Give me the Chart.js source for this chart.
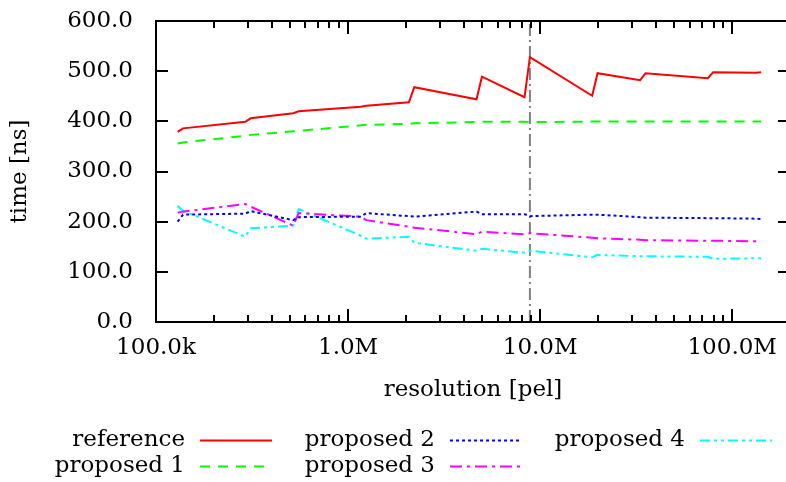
<!DOCTYPE html>
<html>
<head>
<meta charset="utf-8">
<script src="https://cdn.jsdelivr.net/npm/chart.js@4/dist/chart.umd.min.js"></script>
<style>
  html, body { margin: 0; padding: 0; background: #fff; overflow: hidden; }
  #wrap { width: 800px; height: 482px; }
</style>
</head>
<body>
<div id="wrap"><canvas id="c" width="800" height="482"></canvas></div>
<script>
// Image resolutions in pixels (16:9 and DCI 17:9 pairs)
const RESOLUTIONS = [129600, 138240, 291600, 311040, 518400, 552960, 1166400, 1244160,
  2073600, 2211840, 4665600, 4976640, 8294400, 8847360, 18662400, 19906560,
  33177600, 35389440, 74649600, 79626240, 132710400, 141557760];

// Time per pixel [ns]
const REFERENCE  = [379, 386, 399, 406, 416, 420, 429, 431, 438, 468, 444, 489, 448, 528, 451, 496, 482, 496, 486, 498, 497, 498];
const PROPOSED_1 = [356, 358, 371, 373, 380, 381, 392, 393, 395, 396, 398.5, 399, 399, 398.5, 399.5, 399.5, 399.5, 399.5, 399.5, 399.5, 399.5, 399.5];
const PROPOSED_2 = [200, 214, 216, 221, 203, 209, 210, 217, 211, 210, 220, 215, 215, 211, 214, 214, 209, 208, 207, 207, 206, 205];
const PROPOSED_3 = [218, 220, 235, 230, 192, 217, 210, 203, 190, 188, 175, 180, 175, 177, 168, 167, 164, 163, 162, 162, 161, 160];
const PROPOSED_4 = [231, 222, 170, 187, 192, 225, 172, 166, 170, 158, 142, 146, 138, 142, 129, 134, 131, 131, 130, 126, 127, 127];

// 4096x2160 marker
const MARKER_X = 8847360;
const MARKER_Y = [0, 600];

const X_TICKS = [1e5, 1e6, 1e7, 1e8];
const X_TICK_LABELS = ['100.0k', '1.0M', '10.0M', '100.0M'];
const Y_TICKS = [0, 100, 200, 300, 400, 500, 600];

const SERIES_NAMES = ['reference', 'proposed 1', 'proposed 2', 'proposed 3', 'proposed 4'];
const SERIES_VALUES = [REFERENCE, PROPOSED_1, PROPOSED_2, PROPOSED_3, PROPOSED_4];
const SERIES_COLORS = ['#ff0000', '#00ff00', '#0000ff', '#ff00ff', '#00ffff'];
const SERIES_DASHES = [[], [10, 8], [3, 3], [12, 5, 3, 5], [10, 4, 3, 4, 3, 4]];

const FONT = { family: 'DejaVu Serif', size: 23 };
Chart.defaults.font.family = FONT.family;
Chart.defaults.color = '#000';

const datasets = SERIES_NAMES.map((name, i) => ({
  label: name,
  data: RESOLUTIONS.map((x, k) => ({ x: x, y: SERIES_VALUES[i][k] })),
  borderColor: SERIES_COLORS[i],
  borderDash: SERIES_DASHES[i],
  borderWidth: 2,
  pointRadius: 0,
  tension: 0,
  fill: false
}));
datasets.push({
  label: '',
  isMarker: true,
  data: MARKER_Y.map(y => ({ x: MARKER_X, y: y })),
  borderColor: '#808080',
  borderDash: [12, 4, 2, 4],
  borderWidth: 2,
  pointRadius: 0,
  fill: false
});

// Frame, inward ticks (with mirrored copies) and the key below the plot
const framePlugin = {
  id: 'frame',
  afterDatasetsDraw(chart) {
    const { ctx, chartArea: a, scales } = chart;
    const xs = scales.x, ys = scales.y;
    ctx.save();
    ctx.strokeStyle = '#000';
    ctx.lineWidth = 2;
    ctx.setLineDash([]);
    ctx.strokeRect(a.left, a.top, a.right - a.left, a.bottom - a.top);
    ctx.beginPath();
    ys.ticks.forEach(t => {
      const y = Math.round(ys.getPixelForValue(t.value));
      ctx.moveTo(a.left, y); ctx.lineTo(a.left + 12, y);
      ctx.moveTo(a.right, y); ctx.lineTo(a.right - 12, y);
    });
    const lo = Math.floor(Math.log10(xs.min)), hi = Math.ceil(Math.log10(xs.max));
    for (let e = lo; e <= hi; e++) {
      for (let m = 1; m <= 9; m++) {
        const v = m * Math.pow(10, e);
        if (v < xs.min || v > xs.max) continue;
        const x = Math.round(xs.getPixelForValue(v));
        const len = m === 1 ? 13 : 7;
        ctx.moveTo(x, a.bottom); ctx.lineTo(x, a.bottom - len);
        ctx.moveTo(x, a.top); ctx.lineTo(x, a.top + len);
      }
    }
    ctx.stroke();

    // key: two rows, filled column by column
    const textRight = [185, 435, 685];
    const rowY = [440, 466];
    ctx.font = FONT.size + 'px "' + FONT.family + '"';
    ctx.textAlign = 'right';
    ctx.textBaseline = 'middle';
    ctx.fillStyle = '#000';
    chart.data.datasets.forEach((ds, i) => {
      if (ds.isMarker) return;
      const col = Math.floor(i / 2), row = i % 2;
      const xr = textRight[col], y = rowY[row];
      ctx.fillText(ds.label, xr, y);
      ctx.beginPath();
      ctx.strokeStyle = ds.borderColor;
      ctx.lineWidth = 2;
      ctx.setLineDash(ds.borderDash);
      ctx.moveTo(xr + 15, y + 0.5);
      ctx.lineTo(xr + 87, y + 0.5);
      ctx.stroke();
    });
    ctx.restore();
  }
};

new Chart(document.getElementById('c'), {
  type: 'line',
  data: { datasets: datasets },
  options: {
    responsive: false,
    animation: false,
    layout: { padding: { top: 21, right: 10, bottom: 70, left: 0 } },
    plugins: { legend: { display: false }, tooltip: { enabled: false } },
    scales: {
      x: {
        type: 'logarithmic',
        min: 1e5,
        max: 2e8,
        afterBuildTicks: s => { s.ticks = X_TICKS.map(v => ({ value: v })); },
        afterFit: s => { s.height = 90; },
        ticks: {
          autoSkip: false, maxRotation: 0, padding: 12, font: FONT, color: '#000',
          callback: v => X_TICK_LABELS[X_TICKS.indexOf(v)]
        },
        grid: { display: false, drawTicks: false },
        border: { display: false },
        title: { display: true, text: 'resolution [pel]', font: FONT, color: '#000', padding: { top: 0, bottom: 8 } }
      },
      y: {
        min: 0,
        max: 600,
        afterBuildTicks: s => { s.ticks = Y_TICKS.map(v => ({ value: v })); },
        afterFit: s => { s.width = 156; },
        ticks: { padding: 0, font: FONT, color: '#000', callback: v => v.toFixed(1) },
        grid: { display: true, drawOnChartArea: false, drawTicks: true, tickLength: 23, color: 'rgba(0,0,0,0)' },
        border: { display: false },
        title: { display: true, text: 'time [ns]', font: FONT, color: '#000', padding: { top: 6, bottom: 0 } }
      }
    }
  },
  plugins: [framePlugin]
});
</script>
</body>
</html>
